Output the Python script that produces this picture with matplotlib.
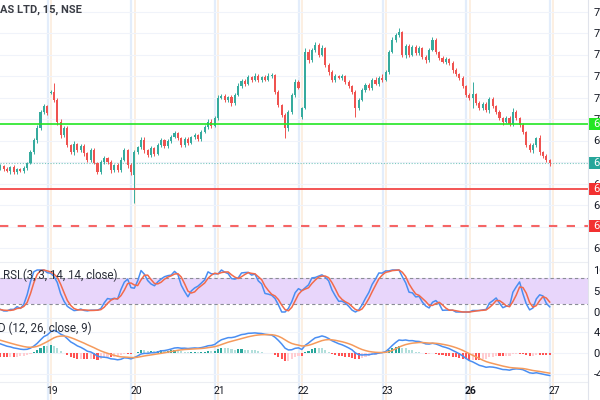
import matplotlib
matplotlib.use('Agg')
import matplotlib.pyplot as plt
from matplotlib.lines import Line2D
from matplotlib.patches import Rectangle
import matplotlib.transforms as mtransforms
import numpy as np
import pandas as pd

plt.rcParams['font.family'] = ['Roboto', 'DejaVu Sans']

# ---------------- data ----------------
title = 'AS LTD, 15, NSE'
rsi_label = 'RSI (3, 3, 14, 14, close)'
macd_label = 'D (12, 26, close, 9)'

# closes of earlier bars (left of the visible window, used only for indicator warm-up)
pre_closes = [676.0, 675.2, 676.5, 677.8, 677.0, 678.4, 679.6, 679.0, 680.5, 681.8,
              681.2, 682.9, 684.0, 683.4, 685.2, 686.5, 686.0, 687.8, 689.0, 688.2,
              690.1, 691.0, 690.4, 691.8, 692.5, 691.6, 692.2, 691.0, 690.2, 690.8,
              689.6, 690.0, 689.2, 689.8, 688.7]

closes = [
    # day 18 (tail)
    689.1, 688.4, 687.9, 688.8, 687.7, 688.4, 687.9, 688.6, 689.8, 692.3, 695.1, 697.9, 701.6, 703.0, 701.4,
    # day 19
    706.3, 704.4, 699.3, 696.3, 697.9, 694.0, 692.3, 694.2, 692.8, 693.7, 692.1, 690.5, 692.8, 689.8, 687.7,
    690.0, 690.9, 690.0, 688.1, 689.3, 688.1, 690.5, 692.8, 689.3, 687.7,
    # day 20
    692.3, 693.4, 695.1, 692.8, 691.6, 693.3, 691.9, 694.0, 695.1, 693.7, 694.9, 695.8, 696.7, 695.6, 694.0,
    695.3, 694.4, 695.8, 696.3, 695.3, 697.0, 698.1, 699.3, 698.4, 700.2,
    # day 21
    704.9, 705.3, 704.4, 705.1, 703.7, 705.6, 707.7, 708.8, 708.1, 709.8, 709.1, 710.0, 709.1, 709.8, 709.1,
    710.0, 710.2, 706.3, 703.3, 700.9, 697.9, 701.6, 705.6, 708.6, 707.2,
    # day 22
    702.6, 715.6, 713.7, 716.0, 717.2, 714.9, 716.5, 712.6, 710.9, 709.1, 710.0, 709.5, 710.0, 708.6, 707.7,
    706.3, 702.6, 704.4, 706.7, 707.9, 707.2, 709.1, 708.1, 709.5, 709.1,
    # day 23
    710.9, 715.6, 718.4, 719.5, 720.2, 714.9, 717.0, 714.9, 716.7, 715.3, 716.5, 714.4, 713.7, 716.0, 718.4,
    715.6, 714.2, 713.3, 714.0, 713.0, 711.4, 710.5, 709.5, 707.7, 705.6,
    # day 26
    704.9, 705.8, 703.7, 702.6, 703.5, 702.1, 704.7, 703.0, 701.6, 700.2, 699.3, 700.2, 698.8, 701.6, 700.2,
    698.6, 697.0, 694.0, 692.8, 694.0, 695.6, 692.3, 691.4, 690.5, 689.8,
]

# session opens that gap away from the previous close (bar index -> open)
gap_opens = {15: 706.0, 40: 687.0, 90: 700.5}

# wick lengths beyond the body, in tenths of a rupee
wick_up = [4, 3, 5, 2, 4, 3, 2, 5, 3, 6, 4, 8, 5, 6, 3,
           4, 21, 4, 6, 5, 4, 3, 6, 3, 5, 4, 3, 4, 5, 3, 4, 6, 3, 4, 3, 5, 6, 4, 3, 5,
           5, 4, 6, 8, 3, 4, 3, 5, 4, 3, 5, 4, 6, 3, 2, 5, 4, 3, 4, 3, 5, 4, 6, 8, 4,
           6, 5, 4, 3, 5, 4, 6, 5, 4, 5, 3, 6, 4, 3, 5, 7, 4, 3, 4, 3, 4, 5, 4, 6, 4,
           3, 8, 6, 5, 7, 4, 6, 3, 4, 5, 4, 3, 4, 3, 4, 3, 5, 4, 6, 4, 5, 4, 6, 4, 9,
           4, 5, 6, 4, 10, 3, 5, 4, 6, 4, 5, 3, 4, 5, 7, 4, 3, 5, 4, 3, 4, 5, 3, 4, 3,
           4, 28, 3, 4, 5, 4, 4, 5, 3, 4, 3, 5, 4, 10, 4, 3, 5, 3, 4, 5, 2, 6, 3, 4, 3]
wick_dn = [5, 4, 3, 6, 4, 5, 3, 4, 5, 3, 4, 6, 5, 4, 5,
           3, 5, 7, 8, 6, 4, 5, 7, 4, 5, 6, 4, 5, 3, 6, 5, 4, 5, 6, 4, 5, 4, 3, 6, 8,
           65, 5, 4, 6, 5, 4, 5, 3, 6, 4, 5, 4, 3, 5, 6, 4, 5, 3, 4, 5, 4, 3, 5, 4, 3,
           4, 3, 5, 4, 6, 4, 3, 4, 5, 3, 4, 3, 5, 4, 3, 3, 4, 5, 6, 4, 23, 7, 5, 4, 3,
           5, 3, 6, 4, 4, 5, 3, 5, 6, 4, 5, 3, 4, 5, 6, 5, 21, 4, 3, 5, 4, 5, 3, 4, 4,
           3, 4, 3, 5, 4, 5, 6, 4, 3, 5, 4, 5, 6, 4, 3, 5, 4, 3, 5, 4, 6, 4, 5, 6, 5,
           4, 23, 5, 6, 4, 5, 6, 4, 5, 4, 6, 3, 5, 4, 5, 4, 6, 5, 4, 7, 5, 6, 5, 6, 7]

day_labels = ['19', '20', '21', '22', '23', '26', '27']
day_start_bars = [15, 40, 65, 90, 115, 140, 165]
bold_days = ['26']

level_green = 698.8
level_red = 683.7
level_red_dash = 675.1

# price-scale ticks (690 and 675 sit under the level labels and are hidden there)
price_ticks = [670, 680, 685, 695, 700, 705, 710, 715, 720, 725]
rsi_ticks = [100, 50, 0]
macd_ticks = [4, 0, -4]

# ---------------- derived series ----------------
all_close = pd.Series(pre_closes + closes, dtype=float)
n_pre = len(pre_closes)
idx_all = np.arange(len(all_close)) - n_pre

ema12 = all_close.ewm(span=12, adjust=False).mean()
ema26 = all_close.ewm(span=26, adjust=False).mean()
macd = ema12 - ema26
signal = macd.ewm(span=9, adjust=False).mean()
hist = macd - signal

delta = all_close.diff()
up = delta.clip(lower=0).ewm(alpha=1 / 14, adjust=False).mean()
dn = (-delta.clip(upper=0)).ewm(alpha=1 / 14, adjust=False).mean()
rsi = 100 - 100 / (1 + up / dn.replace(0, np.nan))
rsi = rsi.fillna(100)
lo = rsi.rolling(14).min()
hi = rsi.rolling(14).max()
stoch = ((rsi - lo) / (hi - lo).replace(0, np.nan) * 100).fillna(50)
k_line = stoch.rolling(3).mean()
d_line = k_line.rolling(3).mean()

c = np.array(closes)
o = np.concatenate([[pre_closes[-1]], c[:-1]])
for b, v in gap_opens.items():
    o[b] = v
hi_p = np.maximum(o, c) + np.array(wick_up) / 10
lo_p = np.minimum(o, c) - np.array(wick_dn) / 10
x = np.arange(len(c))

# ---------------- figure ----------------
W, H = 600, 400
fig = plt.figure(figsize=(W / 100, H / 100), dpi=100)
fig.patch.set_facecolor('white')
XR = 588
TICK_FS = 8


def rect(y0, y1):
    return [0, 1 - y1 / H, XR / W, (y1 - y0) / H]


ax_p = fig.add_axes(rect(0, 262))
ax_r = fig.add_axes(rect(262, 318))
ax_m = fig.add_axes(rect(318, 382))
ax_t = fig.add_axes(rect(382, 400))

bar_px = 3.35
xlim = (-0.1, -0.1 + XR / bar_px)
for a in (ax_p, ax_r, ax_m, ax_t):
    a.set_xlim(*xlim)
    a.set_facecolor('none')
    for s in a.spines.values():
        s.set_visible(False)
    a.set_xticks([])
    a.yaxis.tick_right()
    a.tick_params(axis='y', length=0, pad=3.9, labelsize=TICK_FS, labelcolor='#131722')
    for b in day_start_bars:
        a.axvline(b - 0.9, color='#e3edfb', lw=1.6, zorder=0)
        a.axvline(b + 0.1, color='#fcefe2', lw=1.4, zorder=0)

# price pane limits: 700 at y=119 px, 4.3 px per unit
ppu = 4.3
ax_p.set_ylim(700 - (262 - 119) / ppu, 700 + 119 / ppu)
ax_p.set_yticks(price_ticks)
ax_p.set_yticklabels([f'{t:.2f}' for t in price_ticks])
for t in price_ticks + [690, 675]:
    ax_p.axhline(t, color='#f0f3fa', lw=0.8, zorder=0)

up_col = '#36ab9e'
dn_col = '#ef5350'
cols = np.where(c >= o, up_col, dn_col)
ax_p.vlines(x, lo_p, hi_p, colors=cols, lw=0.7, zorder=3)
body = np.maximum(np.abs(c - o), 0.2)
ax_p.bar(x, body, bottom=np.minimum(o, c), width=0.62, color=cols, lw=0, zorder=4)

ax_p.axhline(level_green, color='#22e622', lw=1.2, zorder=5)
ax_p.axhline(level_red, color='#f24848', lw=1.3, zorder=5)
ax_p.axhline(level_red_dash, color='#f56565', lw=1.5, ls=(0, (4, 4.5)), zorder=5)
ax_p.axhline(c[-1], color='#26a69a', lw=0.8, ls=(0, (1, 1.5)), alpha=0.6, zorder=2)

# coloured level labels on the price scale
trans = mtransforms.blended_transform_factory(ax_p.transAxes, ax_p.transData)
box_h = 12 / ppu
for val, colr in [(level_green, '#22e622'), (c[-1], '#26a69a'),
                  (level_red, '#f23030'), (level_red_dash, '#f23030')]:
    ax_p.add_patch(Rectangle((1.0, val - box_h / 2), 0.05, box_h, transform=trans,
                             facecolor=colr, edgecolor='none', clip_on=False, zorder=9))
    ax_p.annotate(f'{val:.2f}', xy=(1.0, val), xycoords=trans,
                  xytext=(3.9, 0), textcoords='offset points', ha='left', va='center',
                  fontsize=TICK_FS, color='white', annotation_clip=False, zorder=10)

# stoch RSI pane: 100 at y=270, 0 at y=312
rpu = 0.42
ax_r.set_ylim(0 - (318 - 312) / rpu, 100 + (270 - 262) / rpu)
ax_r.axhspan(20, 80, color='#e8d6fb', lw=0, zorder=0.5)
ax_r.axhline(80, color='#8a8d96', lw=0.8, ls=(0, (3, 2.5)), zorder=1)
ax_r.axhline(20, color='#8a8d96', lw=0.8, ls=(0, (3, 2.5)), zorder=1)
ax_r.set_yticks(rsi_ticks)
ax_r.set_yticklabels([f'{t:.2f}' for t in rsi_ticks])
ax_r.plot(idx_all, k_line, color='#4a8ef2', lw=1.1, zorder=3)
ax_r.plot(idx_all, d_line, color='#f26a4b', lw=1.1, zorder=3)

# MACD pane: 0 at y=353, 5.25 px per unit
mpu = 5.25
ax_m.set_ylim(-(382 - 353) / mpu, (353 - 318) / mpu)
ax_m.set_yticks(macd_ticks)
ax_m.set_yticklabels([f'{t:.2f}' for t in macd_ticks])
for t in macd_ticks:
    ax_m.axhline(t, color='#f0f3fa', lw=0.8, zorder=0)
hv = hist.values
hprev = np.concatenate([[0], hv[:-1]])
hcols = np.where(hv >= 0, np.where(hv >= hprev, '#26a69a', '#b2dfdb'),
                 np.where(hv < hprev, '#ff5252', '#ffcdd2'))
ax_m.bar(idx_all, hv, width=0.62, color=hcols, lw=0, zorder=2)
ax_m.plot(idx_all, macd, color='#4a8ef2', lw=1.1, zorder=3)
ax_m.plot(idx_all, signal, color='#f59a5c', lw=1.1, zorder=3)

# time axis labels
ax_t.set_ylim(0, 1)
ax_t.set_yticks([])
for lab, b in zip(day_labels, day_start_bars):
    ax_t.text(b + 0.5, 0.5, lab, ha='center', va='center', fontsize=7.5, color='#131722',
              fontweight='bold' if lab in bold_days else 'normal')

# pane separators and price-scale border
for yy in (262, 318, 382):
    fig.add_artist(Line2D([0, XR / W], [1 - yy / H] * 2, color='#eceef3', lw=0.8))
fig.add_artist(Line2D([XR / W] * 2, [0, 1], color='#e0e3eb', lw=0.8))

# labels
fig.text(0 / W, 1 - 10 / H, title, fontsize=8, fontweight='bold', color='#3a3d45',
         ha='left', va='center')
fig.text(3 / W, 1 - 275 / H, rsi_label, fontsize=8.3, color='#2a2e39', ha='left', va='center')
fig.text(-2 / W, 1 - 328 / H, macd_label, fontsize=8.3, color='#2a2e39', ha='left', va='center')

fig.savefig('out.png', dpi=100)
